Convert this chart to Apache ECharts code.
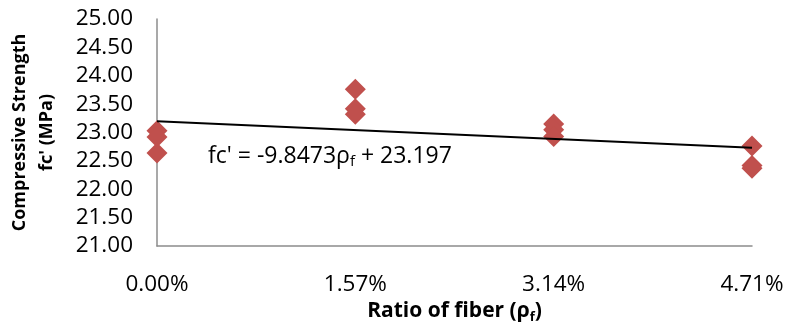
<!DOCTYPE html>
<html>
<head>
<meta charset="utf-8">
<script src="https://cdn.jsdelivr.net/npm/echarts@6/dist/echarts.min.js"></script>
<style>
html,body{margin:0;padding:0;background:#fff;}
#c{width:785px;height:326px;}
</style>
</head>
<body>
<div id="c"></div>
<script>
// fiber ratio (fraction) per specimen group
const ratios = [0, 0.0157, 0.0314, 0.0471];
// compressive strength readings (MPa), three specimens per ratio
const strength0 = [23.03, 22.92, 22.64];
const strength157 = [23.76, 23.42, 23.32];
const strength314 = [23.15, 23.05, 22.93];
const strength471 = [22.76, 22.42, 22.37];
// trendline from the chart's equation
const trendSlope = -9.8473;
const trendIntercept = 23.197;
const yTicks = [21, 25, 0.5];

const groups = [strength0, strength157, strength314, strength471];
const points = [];
groups.forEach((g, i) => g.forEach(v => points.push([ratios[i], v])));
const xEnd = ratios[ratios.length - 1];
const trend = [[0, trendIntercept], [xEnd, trendIntercept + trendSlope * xEnd]];

const font = "'Open Sans', 'Noto Sans', sans-serif";
const chart = echarts.init(document.getElementById('c'), null, {renderer: 'canvas'});
chart.setOption({
  animation: false,
  backgroundColor: '#ffffff',
  grid: {left: 157, right: 33, top: 19, bottom: 80, containLabel: false, outerBoundsMode: 'none'},
  xAxis: {
    type: 'value',
    min: 0, max: xEnd, interval: 0.0157,
    axisLine: {show: true, lineStyle: {color: '#8c8c8c', width: 1.5}},
    axisTick: {show: false},
    splitLine: {show: false},
    axisLabel: {
      margin: 27, color: '#000', fontFamily: font, fontSize: 22.5,
      formatter: v => (v * 100).toFixed(2) + '%'
    },
    name: '{a|Ratio of fiber (ρ}{s|f}{a|)}',
    nameLocation: 'middle',
    nameGap: 49,
    nameTextStyle: {
      rich: {
        a: {fontFamily: font, fontWeight: 'bold', fontSize: 21, color: '#000'},
        s: {fontFamily: font, fontWeight: 'bold', fontSize: 13, color: '#000', verticalAlign: 'bottom', padding: [12, 0, 0, 0]}
      }
    }
  },
  yAxis: {
    type: 'value',
    min: yTicks[0], max: yTicks[1], interval: yTicks[2],
    axisLine: {show: true, lineStyle: {color: '#8c8c8c', width: 1.5}},
    axisTick: {show: false},
    splitLine: {show: false},
    axisLabel: {
      margin: 24, color: '#000', fontFamily: font, fontSize: 22.5,
      formatter: v => v.toFixed(2)
    },
    name: "Compressive Strength\nfc' (MPa)",
    nameLocation: 'middle',
    nameRotate: 90,
    nameGap: 97,
    nameTextStyle: {fontFamily: font, fontWeight: 'bold', fontSize: 18, color: '#000', lineHeight: 27}
  },
  series: [
    {
      type: 'line',
      data: trend,
      symbol: 'none',
      lineStyle: {color: '#000', width: 2},
      z: 3
    },
    {
      type: 'scatter',
      data: points,
      symbol: 'diamond',
      symbolSize: 21,
      itemStyle: {color: '#C0504D', opacity: 1},
      z: 2
    }
  ],
  graphic: [{
    type: 'text',
    left: 208, top: 145,
    style: {
      text: "{a|fc' = -9.8473ρ}{s|f}{a| + 23.197}",
      rich: {
        a: {fontFamily: font, fontSize: 23, fill: '#000'},
        s: {fontFamily: font, fontSize: 15, fill: '#000', verticalAlign: 'bottom', padding: [10, 0, 0, 0]}
      }
    }
  }]
});
</script>
</body>
</html>
